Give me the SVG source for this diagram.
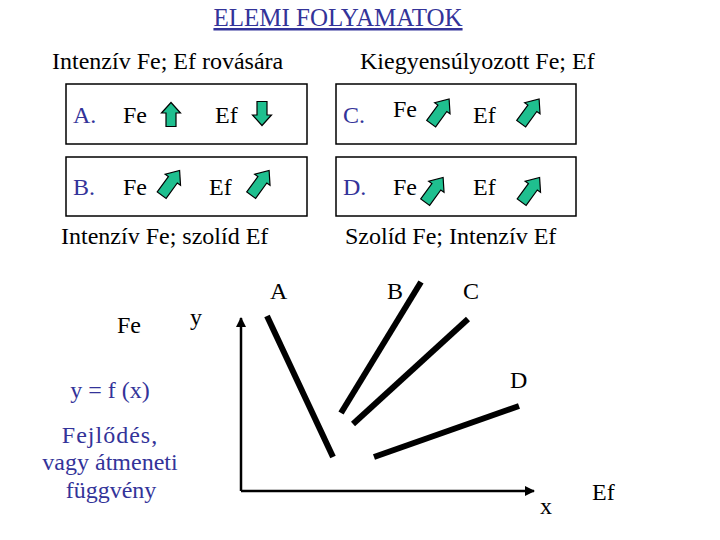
<svg xmlns="http://www.w3.org/2000/svg" width="720" height="540" viewBox="0 0 720 540" font-family="'Liberation Serif', 'Times New Roman', serif" font-size="24">
<style>
.b{fill:#333399}
.box{fill:none;stroke:#000;stroke-width:1.5}
.arr{fill:#1fbf8f;stroke:#000;stroke-width:1.2;stroke-linejoin:miter}
.ln{stroke:#000;stroke-width:6;stroke-linecap:butt}
.ax{stroke:#000;stroke-width:2.5;fill:none}
</style>
<defs>
<path id="av" d="M0,-12 L9.5,-1.5 L5,-1.5 L5,12 L-5,12 L-5,-1.5 L-9.5,-1.5 Z"/>
<path id="ad" d="M0,-15.5 L9.5,-4 L5.5,-4 L5.5,15 L-5.5,15 L-5.5,-4 L-9.5,-4 Z"/>
<marker id="ah" viewBox="0 0 10 10" refX="9" refY="5" markerWidth="4" markerHeight="4" orient="auto" markerUnits="strokeWidth">
<path d="M0,0 L10,5 L0,10 Z" fill="#000"/>
</marker>
</defs>
<g id="title" font-family="Liberation Serif, serif">
<text class="b" x="338" y="26" text-anchor="middle" font-size="25" text-decoration="underline">ELEMI FOLYAMATOK</text>
</g>
<g id="headers" font-family="Liberation Serif, serif">
<text x="52" y="69">Intenzív Fe; Ef rovására</text>
<text x="360" y="69">Kiegyensúlyozott Fe; Ef</text>
<text x="61" y="244">Intenzív Fe; szolíd Ef</text>
<text x="345" y="244">Szolíd Fe; Intenzív Ef</text>
</g>
<g id="boxA" font-family="Liberation Serif, serif">
<rect class="box" x="66" y="84" width="241" height="60"/>
<text class="b" x="73" y="123">A.</text>
<text x="123" y="123">Fe</text>
<use href="#av" class="arr" transform="translate(171,114.5)"/>
<text x="215" y="123">Ef</text>
<use href="#av" class="arr" transform="translate(262,113.5) rotate(180)"/>
</g>
<g id="boxB" font-family="Liberation Serif, serif">
<rect class="box" x="66" y="157" width="241" height="59"/>
<text class="b" x="73" y="195">B.</text>
<text x="123" y="195">Fe</text>
<use href="#ad" class="arr" transform="translate(170.5,183) rotate(36)"/>
<text x="209" y="195">Ef</text>
<use href="#ad" class="arr" transform="translate(260,183) rotate(36)"/>
</g>
<g id="boxC" font-family="Liberation Serif, serif">
<rect class="box" x="336" y="84" width="240" height="60"/>
<text class="b" x="343" y="123">C.</text>
<text x="393" y="117">Fe</text>
<use href="#ad" class="arr" transform="translate(440,111.5) rotate(36)"/>
<text x="473" y="123">Ef</text>
<use href="#ad" class="arr" transform="translate(530,111.5) rotate(36)"/>
</g>
<g id="boxD" font-family="Liberation Serif, serif">
<rect class="box" x="336" y="157" width="240" height="59"/>
<text class="b" x="343" y="195">D.</text>
<text x="393" y="195">Fe</text>
<use href="#ad" class="arr" transform="translate(434,190) rotate(36)"/>
<text x="473" y="195">Ef</text>
<use href="#ad" class="arr" transform="translate(530.5,190) rotate(36)"/>
</g>
<g id="connectors">
<line class="ax" x1="241" y1="491" x2="241" y2="318" marker-end="url(#ah)"/>
<line class="ax" x1="241" y1="491" x2="534" y2="491" marker-end="url(#ah)"/>
<line class="ln" x1="267" y1="316" x2="333" y2="457"/>
<line class="ln" x1="421" y1="282" x2="341" y2="413"/>
<line class="ln" x1="468" y1="319" x2="353" y2="424"/>
<line class="ln" x1="519" y1="406" x2="374" y2="457"/>
</g>
<g id="graph-labels" font-family="Liberation Serif, serif">
<text x="270" y="299">A</text>
<text x="387" y="299">B</text>
<text x="463" y="299">C</text>
<text x="510" y="388">D</text>
<text x="117" y="333">Fe</text>
<text x="190" y="325">y</text>
<text x="540" y="514">x</text>
<text x="592" y="500">Ef</text>
</g>
<g id="notes" font-family="Liberation Serif, serif">
<text class="b" x="110" y="398" text-anchor="middle">y = f (x)</text>
<text class="b" x="110" y="443" text-anchor="middle" letter-spacing="1">Fejlődés,</text>
<text class="b" x="110" y="470" text-anchor="middle">vagy átmeneti</text>
<text class="b" x="111" y="498" text-anchor="middle">függvény</text>
</g>
</svg>
